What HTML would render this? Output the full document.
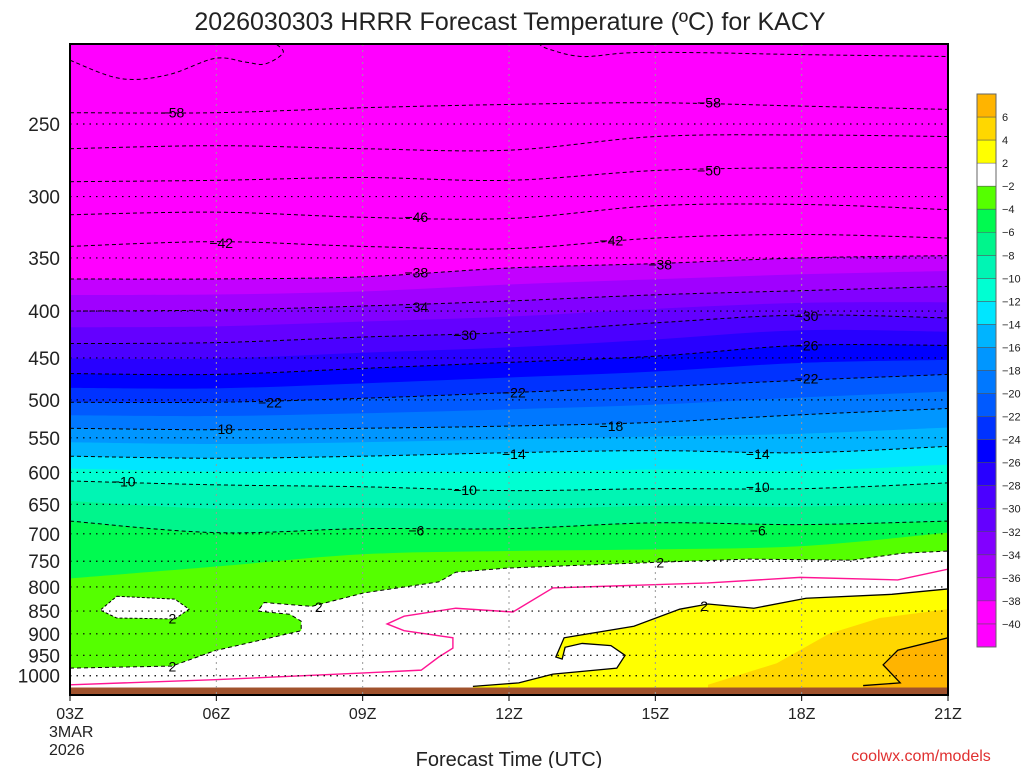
<!DOCTYPE html>
<html><head><meta charset="utf-8"><style>
html,body{margin:0;padding:0;background:#fff;width:1024px;height:768px;overflow:hidden}
svg{display:block;font-family:"Liberation Sans","DejaVu Sans",sans-serif}
</style></head><body>
<svg id="chart" width="1024" height="768" viewBox="0 0 1024 768" xmlns="http://www.w3.org/2000/svg">
<text x="510" y="30" font-size="25" text-anchor="middle" fill="#222">2026030303 HRRR Forecast Temperature (ºC) for KACY</text>
<text x="509" y="766" font-size="20" text-anchor="middle" fill="#222">Forecast Time (UTC)</text>
<text x="921" y="761" font-size="16" text-anchor="middle" fill="#e03030">coolwx.com/models</text>
<text x="49" y="737" font-size="16" fill="#222">3MAR</text>
<text x="49" y="755" font-size="16" fill="#222">2026</text>
<g id="plot"></g>
<g id="axes"></g>
<g id="cbar"></g>
</svg>
<script>
// ---- data ----
const hours = [0,3,6,9,12,15,18];
const timeLabels = ["03Z","06Z","09Z","12Z","15Z","18Z","21Z"];
const pressureTicks = [250,300,350,400,450,500,550,600,650,700,750,800,850,900,950,1000];
// isotherm pressure (hPa) at each time
const iso58 = [243,243,240,238,237,239,241];
const iso54 = [266,264,266,267,258,257,258];
const iso50 = [289,288,286,288,281,279,279];
const iso46 = [314,312,316,317,307,306,310];
const iso42 = [340,336,340,342,333,330,333];
const iso38 = [369,369,367,359,355,350,348];
const iso34 = [400,399,395,390,384,380,376];
const iso30 = [434,433,427,422,412,404,407];
const iso26 = [468,469,462,455,448,436,436];
const iso22 = [503,503,498,491,484,476,469];
const iso18 = [537,539,537,534,529,519,511];
const iso14 = [576,579,576,571,568,571,562];
const iso10 = [613,619,622,628,625,625,616];
const iso6 = [678,698,691,691,681,684,678];
const iso4 = [783,760,737,731,728,722,698];
// irregular low-level regions: [hour, pressure]
const whiteRegionH = [0,2.09,2.97,4.74,4.74,4.51,3.85,3.98,4.96,6.03,7.56,7.91,8.96,12.03,13.9,16.03,17.08,18];
const whiteRegionP = [981,976,939,893,872,857,850,832,840,812,790,771,763,752,746,748,735,731];
const islandH = [0.96,2.15,2.44,2.15,0.96,0.62];
const islandP = [819,825,846,867,865,848];
const yellowH = [8.26,9.2,9.9,11.21,11.38,11.09,10.5,10.15,10.09,9.96,10.13,11.56,12.5,13.08,14.02,15.09,16.85,18];
const yellowP = [1027,1018,996,981,950,927,922,931,959,954,909,883,846,835,844,823,815,804];
const goldH = [13.08,14.49,15.56,16.6,18];
const goldP = [1023,969,900,865,846];
const orangeH = [16.26,17.02,16.67,16.97,18];
const orangeP = [1025,1018,973,938,909];
const zeroLineH = [0,2.97,6.03,7.2,7.56,7.85,7.85,6.85,6.5,6.85,7.91,9.08,9.9,13.08,14.97,16.97,18];
const zeroLineP = [1023,1010,993,986,954,933,909,893,878,861,844,852,802,792,781,786,765];
const topContourH = [0,1.03,2.0,2.97,3.6,4.0,4.37,4.2];
const topContourP = [213,223,221,212,214,215,209,204];
const topContour2H = [9.6,9.8,10.5,11.5,13,15,18];
const topContour2P = [204,207,211,209,209,210,211];
const groundP = 1030;
const cbarLabels = ["6","4","2","-2","-4","-6","-8","-10","-12","-14","-16","-18","-20","-22","-24","-26","-28","-30","-32","-34","-36","-38","-40"];
const cbarColors = ["#ffb400","#ffd700","#ffff00","#ffffff","#55ff00","#00fa50","#00f58c","#00f5b4","#00ffd2","#00e6ff","#00b4ff","#0096ff","#0078ff","#005aff","#0032ff","#0000ff","#2800ff","#4b00ff","#6400ff","#8200ff","#a000ff","#c300ff","#ff00ff","#ff00ff"];

// ---- axes ----
const X0=70,X1=948,Y0=44,Y1=695;
const xs = h => X0 + h*(X1-X0)/18;
const ys = p => 124 + 398*Math.log(p/250);
const NS="http://www.w3.org/2000/svg";
function mk(tag,attrs,parent){const e=document.createElementNS(NS,tag);for(const k in attrs)e.setAttribute(k,attrs[k]);parent.appendChild(e);return e;}
const plot=document.getElementById('plot'), axes=document.getElementById('axes'), cbar=document.getElementById('cbar');

function curvePts(arr){return hours.map((h,i)=>[xs(h),ys(arr[i])]);}
function catmull(pts){
  let d=`M${pts[0][0]},${pts[0][1]}`;
  for(let i=0;i<pts.length-1;i++){
    const p0=pts[Math.max(0,i-1)],p1=pts[i],p2=pts[i+1],p3=pts[Math.min(pts.length-1,i+2)];
    const c1=[p1[0]+(p2[0]-p0[0])/6,p1[1]+(p2[1]-p0[1])/6];
    const c2=[p2[0]-(p3[0]-p1[0])/6,p2[1]-(p3[1]-p1[1])/6];
    d+=`C${c1[0]},${c1[1]} ${c2[0]},${c2[1]} ${p2[0]},${p2[1]}`;
  }
  return d;
}
function lerpLog(a,b){return a.map((v,i)=>Math.sqrt(v*b[i]));}
function polyD(H,P,close){let d=H.map((h,i)=>(i?'L':'M')+xs(h)+','+ys(P[i])).join('');return close?d+'Z':d;}
function hpPts(H,P){return H.map((h,i)=>[xs(h),ys(P[i])]);}

const defs=mk('defs',{},plot);
const cp=mk('clipPath',{id:'clip'},defs);mk('rect',{x:X0,y:Y0,width:X1-X0,height:Y1-Y0},cp);
const g=mk('g',{'clip-path':'url(#clip)'},plot);
const bg=mk('rect',{x:X0,y:Y0,width:X1-X0,height:Y1-Y0,fill:'#ff00ff'},g);


const iso36=lerpLog(iso38,iso34),iso32=lerpLog(iso34,iso30),iso28=lerpLog(iso30,iso26),iso24=lerpLog(iso26,iso22),
iso20=lerpLog(iso22,iso18),iso16=lerpLog(iso18,iso14),iso12=lerpLog(iso14,iso10),iso8=lerpLog(iso10,iso6);
const fills=[[iso38,"#c300ff"],[iso36,"#a000ff"],[iso34,"#8200ff"],[iso32,"#6400ff"],[iso30,"#4b00ff"],[iso28,"#2800ff"],
[iso26,"#0000ff"],[iso24,"#0032ff"],[iso22,"#005aff"],[iso20,"#0078ff"],[iso18,"#0096ff"],[iso16,"#00b4ff"],[iso14,"#00e6ff"],
[iso12,"#00ffd2"],[iso10,"#00f5b4"],[iso8,"#00f58c"],[iso6,"#00fa50"],[iso4,"#55ff00"]];
fills.forEach(([arr,col])=>{
  const pts=curvePts(arr);
  const e=mk('path',{d:catmull(pts)+`L${X1+5},${pts[pts.length-1][1]}L${X1+5},${Y1}L${X0-5},${Y1}L${X0-5},${pts[0][1]}Z`,fill:col},g);
  
  
});
let e;
e=mk('path',{d:polyD(whiteRegionH.concat([18,0]),whiteRegionP.concat([1049,1049]),true),fill:'#fff'},g);


e=mk('path',{d:polyD(islandH,islandP,true),fill:'#fff',stroke:'#000','stroke-dasharray':'3,2'},g);


e=mk('path',{d:polyD(yellowH.concat([18,8.26]),yellowP.concat([1049,1049]),true),fill:'#ffff00'},g);


e=mk('path',{d:polyD(goldH.concat([18,13.08]),goldP.concat([1049,1049]),true),fill:'#ffd700'},g);


e=mk('path',{d:polyD(orangeH.concat([18,16.26]),orangeP.concat([1049,1049]),true),fill:'#ffb400'},g);


[iso58,iso54,iso50,iso46,iso42,iso38,iso34,iso30,iso26,iso22,iso18,iso14,iso10,iso6].forEach(arr=>{
  const l=mk('path',{d:catmull(curvePts(arr)),fill:'none',stroke:'#000','stroke-width':1,'stroke-dasharray':'4,3'},g);
  
  
});
e=mk('path',{d:catmull(hpPts(topContourH,topContourP)),fill:'none',stroke:'#000','stroke-dasharray':'4,3'},g);


e=mk('path',{d:catmull(hpPts(topContour2H,topContour2P)),fill:'none',stroke:'#000','stroke-dasharray':'4,3'},g);


e=mk('path',{d:polyD(whiteRegionH,whiteRegionP,false),fill:'none',stroke:'#000','stroke-dasharray':'4,3'},g);


e=mk('path',{d:polyD(yellowH,yellowP,false),fill:'none',stroke:'#000','stroke-width':1.3},g);


e=mk('path',{d:polyD(orangeH,orangeP,false),fill:'none',stroke:'#000','stroke-width':1.3},g);


e=mk('path',{d:polyD(zeroLineH,zeroLineP,false),fill:'none',stroke:'#ff1493','stroke-width':1.4},g);


e=mk('rect',{x:X0,y:ys(groundP),width:X1-X0,height:Y1-ys(groundP),fill:'#a0522d'},g);


pressureTicks.forEach(p=>{
  const l=mk('line',{x1:X0,x2:X1,y1:ys(p),y2:ys(p),stroke:'#000','stroke-width':1.2,'stroke-dasharray':'1.5,5'},g);
  
  
});
hours.forEach(h=>{
  const l=mk('line',{x1:xs(h),x2:xs(h),y1:Y0,y2:Y1,stroke:'#999','stroke-width':1,'stroke-dasharray':'2,4'},g);
  
  
});
const labels=[["-58",2.1,243],["-58",13.1,237],["-50",13.1,281],["-46",7.1,316],["-42",3.1,337],["-42",11.1,335],["-38",7.1,363],["-38",12.1,356],["-34",7.1,396],["-30",8.1,425],["-30",15.1,405],["-26",15.1,436],["-22",4.1,503],["-22",9.1,491],["-22",15.1,474],["-18",3.1,538],["-18",11.1,534],["-14",9.1,573],["-14",14.1,573],["-10",1.1,614],["-10",8.1,627],["-10",14.1,622],["-6",7.1,694],["-6",14.1,694],["2",12.1,752],["2",13.0,839],["2",5.1,841],["2",2.1,866],["2",2.1,977]];
labels.forEach(([t,h,p])=>{
  const tx=mk('text',{x:xs(h),y:ys(p)+5,'font-size':14,'text-anchor':'middle',fill:'#000'},g);
  tx.textContent=t.replace('-','\u2212');
  
  
});
e=mk('rect',{x:X0,y:Y0,width:X1-X0,height:Y1-Y0,fill:'none',stroke:'#000','stroke-width':2},axes);


pressureTicks.forEach(p=>{
  const t=mk('text',{x:60,y:ys(p)+7,'font-size':19,'text-anchor':'end',fill:'#222'},axes);
  t.textContent=p;
  
  
});
hours.forEach((h,i)=>{
  const tk=mk('line',{x1:xs(h),x2:xs(h),y1:Y1,y2:Y1+6,stroke:'#000'},axes);
  
  
  const t=mk('text',{x:xs(h),y:719,'font-size':16,'text-anchor':'middle',fill:'#222'},axes);
  t.textContent=timeLabels[i];
  
  
});
const CB0=94,CBH=23.04;
cbarColors.forEach((c,i)=>{
  const r=mk('rect',{x:977,y:CB0+i*CBH,width:19,height:CBH+0.3,fill:c},cbar);
  
  
});
e=mk('rect',{x:977,y:CB0,width:19,height:CBH*24,fill:'none',stroke:'#666'},cbar);


cbarLabels.forEach((l,i)=>{
  const y=CB0+(i+1)*CBH;
  const tk=mk('line',{x1:977,x2:996,y1:y,y2:y,stroke:'#555','stroke-width':0.6},cbar);
  
  
  const t=mk('text',{x:1002,y:y+4,'font-size':11,fill:'#222'},cbar);
  t.textContent=l.replace('-','\u2212');
  
  
});
</script>
</body></html>
